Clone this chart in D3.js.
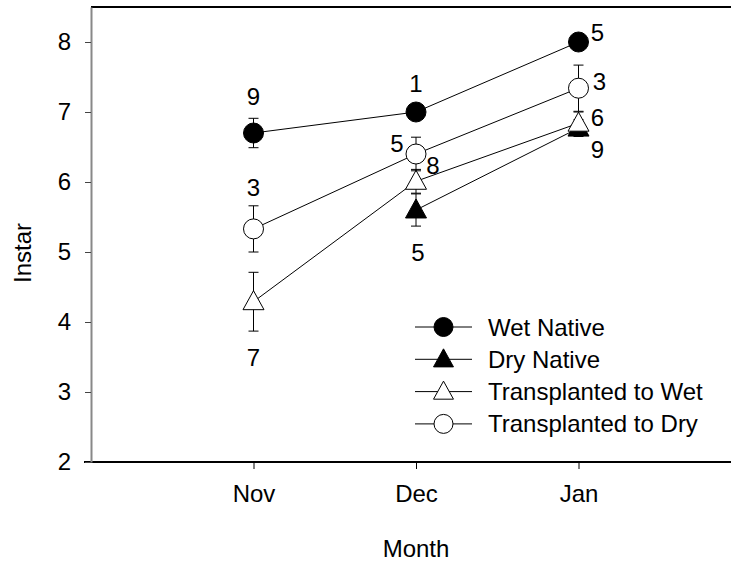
<!DOCTYPE html>
<html>
<head>
<meta charset="utf-8">
<script src="https://cdn.jsdelivr.net/npm/d3@7"></script>
<style>
  body { margin: 0; background: #fff; }
  svg { display: block; font-family: "Liberation Sans", Arial, sans-serif; }
</style>
</head>
<body>
<svg id="chart" width="731" height="566"></svg>
<script>
// ---- data ----
const months = ["Nov", "Dec", "Jan"];
const yTicks = [2, 3, 4, 5, 6, 7, 8];
const seriesNames = ["Wet Native", "Dry Native", "Transplanted to Wet", "Transplanted to Dry"];

const wetNative    = [6.70, 7.00, 8.00];
const wetNativeErr = [0.21, 0, 0];
const wetNativeN   = [9, 1, 5];

const dryNative    = [null, 5.60, 6.77];
const dryNativeErr = [null, 0.23, 0.12];
const dryNativeN   = [null, 5, 9];

const transWet     = [4.29, 6.01, 6.84];
const transWetErr  = [0.42, 0.17, 0.16];
const transWetN    = [7, 8, 6];

const transDry     = [5.33, 6.40, 7.34];
const transDryErr  = [0.33, 0.24, 0.33];
const transDryN    = [3, 5, 3];

// ---- series table ----
const series = [
  { name: seriesNames[0], values: wetNative, err: wetNativeErr, n: wetNativeN, shape: "circle",   fill: "#000" },
  { name: seriesNames[1], values: dryNative, err: dryNativeErr, n: dryNativeN, shape: "triangle", fill: "#000" },
  { name: seriesNames[2], values: transWet,  err: transWetErr,  n: transWetN,  shape: "triangle", fill: "#fff" },
  { name: seriesNames[3], values: transDry,  err: transDryErr,  n: transDryN,  shape: "circle",   fill: "#fff" }
];

// sample-size label offsets from each point (dx, dy)
const nLabelOffsets = [
  [[0, -37], [0, -29], [19, -10]],
  [null, [2, 42], [19, 21]],
  [[0, 56], [17, -16], [19, -6]],
  [[0, -41], [-19, -11], [21, -7]]
];

// ---- layout ----
const svg = d3.select("#chart");
const fontSize = 24;
const plotLeft = 91, plotTop = 7, plotBottom = 462;

const x = d3.scaleLinear().domain([0, 4]).range([plotLeft, plotLeft + 650]);
const y = d3.scaleLinear().domain([2, 8.5]).range([plotBottom, plotTop]);
const xMonth = i => x(i + 1);

// frame: top line
svg.append("line").attr("x1", plotLeft).attr("x2", 731).attr("y1", plotTop).attr("y2", plotTop)
  .attr("stroke", "#000").attr("stroke-width", 2);

// x axis
const xAxis = svg.append("g").attr("transform", `translate(0,${plotBottom})`)
  .call(d3.axisBottom(x).tickValues([1, 2, 3]).tickFormat(d => months[d - 1])
        .tickSizeInner(7).tickSizeOuter(0).tickPadding(16));
xAxis.select(".domain").attr("stroke", "#000").attr("stroke-width", 2)
  .attr("d", `M${plotLeft - 7},0H731`);
xAxis.selectAll(".tick line").attr("stroke", "#000").attr("stroke-width", 1);
xAxis.selectAll(".tick text").attr("font-size", fontSize).attr("fill", "#000")
  .attr("font-family", "Liberation Sans, Arial, sans-serif");

// y axis
const yAxis = svg.append("g").attr("transform", `translate(${plotLeft},0)`)
  .call(d3.axisLeft(y).tickValues(yTicks).tickFormat(d3.format("d"))
        .tickSizeInner(6).tickSizeOuter(0).tickPadding(14));
yAxis.select(".domain").attr("stroke", "#888").attr("stroke-width", 2);
yAxis.selectAll(".tick line").attr("stroke", "#444").attr("stroke-width", 1);
yAxis.selectAll(".tick text").attr("font-size", fontSize).attr("fill", "#000")
  .attr("font-family", "Liberation Sans, Arial, sans-serif");

// axis titles
svg.append("text").attr("x", x(2)).attr("y", 557).attr("text-anchor", "middle")
  .attr("font-size", fontSize).text("Month");
svg.append("text").attr("transform", `translate(31,253) rotate(-90)`)
  .attr("text-anchor", "middle").attr("font-size", fontSize).text("Instar");

// marker shapes
const circleR = 10;
function triPath(w, h) {
  return `M0,${-h * 0.58}L${w / 2},${h * 0.42}L${-w / 2},${h * 0.42}Z`;
}
function drawMarker(g, shape, fill, cx, cy, scale) {
  if (shape === "circle") {
    g.append("circle").attr("cx", cx).attr("cy", cy).attr("r", circleR * scale)
      .attr("fill", fill).attr("stroke", "#000").attr("stroke-width", 1);
  } else {
    g.append("path").attr("d", triPath(21 * scale, 19 * scale))
      .attr("transform", `translate(${cx},${cy})`)
      .attr("fill", fill).attr("stroke", "#000").attr("stroke-width", 1);
  }
}

// series: lines, error bars, markers
const plot = svg.append("g");
series.forEach(s => {
  const g = plot.append("g");
  const pts = s.values.map((v, i) => ({ i, v, e: s.err[i] })).filter(p => p.v !== null);

  g.append("path").datum(pts)
    .attr("d", d3.line().x(p => xMonth(p.i)).y(p => y(p.v)))
    .attr("fill", "none").attr("stroke", "#000").attr("stroke-width", 1);

  pts.filter(p => p.e > 0).forEach(p => {
    const cx = xMonth(p.i), y0 = y(p.v - p.e), y1 = y(p.v + p.e);
    g.append("line").attr("x1", cx).attr("x2", cx).attr("y1", y0).attr("y2", y1)
      .attr("stroke", "#000").attr("stroke-width", 1);
    [y0, y1].forEach(yy => g.append("line")
      .attr("x1", cx - 5).attr("x2", cx + 5).attr("y1", yy).attr("y2", yy)
      .attr("stroke", "#000").attr("stroke-width", 1));
  });

  pts.forEach(p => drawMarker(g, s.shape, s.fill, xMonth(p.i), y(p.v), 1));
});

// sample-size labels
series.forEach((s, si) => {
  s.values.forEach((v, i) => {
    if (v === null || s.n[i] === null) return;
    const off = nLabelOffsets[si][i];
    svg.append("text")
      .attr("x", xMonth(i) + off[0]).attr("y", y(v) + off[1])
      .attr("text-anchor", "middle").attr("dominant-baseline", "central")
      .attr("font-size", fontSize).text(s.n[i]);
  });
});

// legend
const legend = svg.append("g");
series.forEach((s, i) => {
  const ly = 327 + i * 32.3;
  legend.append("line").attr("x1", 415).attr("x2", 472).attr("y1", ly).attr("y2", ly)
    .attr("stroke", "#000").attr("stroke-width", 1);
  drawMarker(legend, s.shape, s.fill, 443.5, ly, 0.95);
  legend.append("text").attr("x", 488).attr("y", ly).attr("dominant-baseline", "central")
    .attr("font-size", fontSize).text(s.name);
});
</script>
</body>
</html>
